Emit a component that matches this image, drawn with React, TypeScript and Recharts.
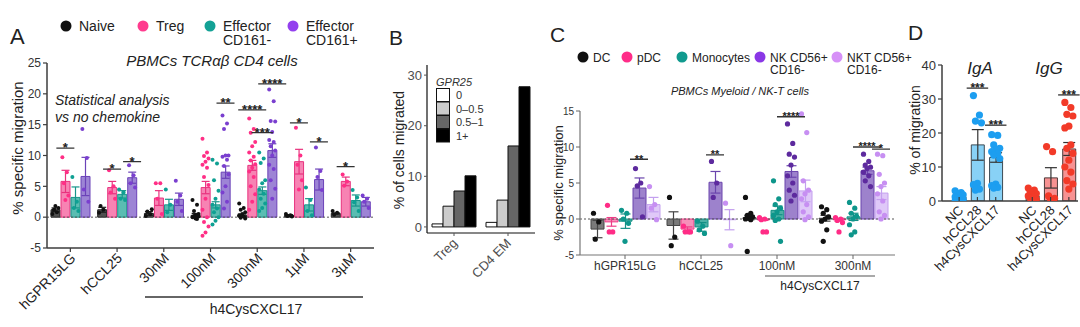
import React from 'react';
import {
  Bar,
  Cell,
  ComposedChart,
  ErrorBar,
  ReferenceLine,
  Scatter,
  XAxis,
  YAxis,
} from 'recharts';

const FONT = 'Arial, "Liberation Sans", Helvetica, sans-serif';
const AXIS = '#3c3c3c';

type Sig = { group: number; series: number; y: number; label: string };

// ---------- A: PBMCs TCRab CD4 cells ----------
const A_GROUPS = ['hGPR15LG', 'hCCL25', '30nM', '100nM', '300nM', '1µM', '3µM'];
const A_SERIES = ['Naive', 'Treg', 'Effector CD161-', 'Effector CD161+'];
const A_MEAN = [
  [1.2, 1.2, 0.6, 0.3, 0.3, 0.3, 0.6],
  [5.8, 4.8, 3.1, 4.8, 8.4, 9.0, 5.8],
  [3.2, 3.7, 2.0, 2.0, 4.3, 2.0, 2.7],
  [6.6, 6.4, 2.9, 7.3, 10.8, 6.1, 2.5],
];
const A_SEM = [
  [0.3, 0.4, 0.3, 0.3, 0.2, 0.1, 0.1],
  [1.8, 1.0, 1.2, 1.0, 0.8, 2.0, 0.7],
  [1.7, 0.6, 0.9, 0.5, 0.6, 1.0, 0.9],
  [3.1, 0.9, 1.0, 1.0, 1.1, 1.7, 0.7],
];
const A_DOTS = [
  [[0.5, 0.8, 1.2, 1.5, 1.8], [0.7, 1.2, 1.8], [0.2, 0.5, 0.9, 1.3], [2.8, 2.0, 1.0, 0.5, 0.3, 0, -0.3, 0.2, 0.1, -0.2], [2.2, 1.5, 1.2, 0.8, 0.5, 0.3, 0.1, -0.1, -0.2], [0.5, 0.3, 0.2, 0.1], [1.0, 0.7, 0.4]],
  [[9.7, 7.3, 5.5, 3.5, 2.8], [7.6, 5.0, 4.0, 3.0], [5.5, 5.5, 3.0, 0.5], [12.7, 10.5, 9.9, 9.5, 9.0, 8.5, 8.0, 6.5, 5.2, 3.0, 1.2, 0, -0.8, -1.5, -2.5, -3.0], [16.0, 14.3, 13.7, 12.2, 11.5, 10.5, 9.8, 9.2, 8.6, 8.0, 7.4, 6.5, 5.0, 3.7, 2.5, 1.2], [14.5, 10.0, 8.5, 6.0, 4.5], [6.9, 5.8, 5.1]],
  [[6.5, 2.5, 1.5, 1.0], [4.5, 4.0, 3.0, 2.8], [4.5, 2.0, 0.8], [9.3, 8.7, 6.0, 4.3, 3.0, 2.0, 1.4, 0.8, 0, -0.6, -1.2], [10.5, 9.5, 8.8, 6.0, 5.5, 4.5, 3.8, 3.0, 2.2, 1.5, 1.0], [4.8, 2.8, 1.0, 0.3], [4.4, 3.2, 2.4, 1.0]],
  [[14.3, 9.6, 4.5, 2.5], [8.4, 6.8, 5.5, 4.8], [5.9, 3.5, 2.5, 1.0], [16.5, 15.2, 14.3, 10.0, 10.0, 9.8, 9.3, 8.3, 6.9, 5.0, 4.0, 2.5, 1.4], [20.7, 18.8, 15.6, 15.5, 13.8, 12.5, 12.2, 11.5, 10.8, 10.0, 8.5, 7.8, 6.0, 4.6, 3.0], [11.3, 7.5, 6.5, 4.4], [3.5, 3.0, 2.5, 1.5]],
];
const A_SIG: Sig[] = [
  { group: 0, series: 1, y: 11.2, label: '*' },
  { group: 1, series: 1, y: 7.8, label: '*' },
  { group: 1, series: 3, y: 9.0, label: '*' },
  { group: 3, series: 3, y: 18.5, label: '**' },
  { group: 4, series: 1, y: 17.4, label: '****' },
  { group: 4, series: 2, y: 13.7, label: '***' },
  { group: 4, series: 3, y: 21.6, label: '****' },
  { group: 5, series: 1, y: 15.3, label: '*' },
  { group: 5, series: 3, y: 12.2, label: '*' },
  { group: 6, series: 1, y: 8.2, label: '*' },
];
const A_TICKS = [-5, 0, 5, 10, 15, 20, 25];

// ---------- B: GPR25 expression bins ----------
const B_GROUPS = ['Treg', 'CD4 EM'];
const B_BINS = ['0', '0–0.5', '0.5–1', '1+'];
const B_VALUES = [
  [0.6, 0.9],
  [4.1, 5.3],
  [7.1, 16.0],
  [10.1, 27.7],
];
const B_TICKS = [0, 10, 20, 30];

// ---------- C: PBMCs Myeloid / NK-T cells ----------
const C_GROUPS = ['hGPR15LG', 'hCCL25', '100nM', '300nM'];
const C_SERIES = ['DC', 'pDC', 'Monocytes', 'NK CD56+ CD16-', 'NKT CD56+ CD16-'];
const C_MEAN = [
  [-1.4, -0.9, 0.2, 0.1],
  [-0.4, -1.4, -0.1, -0.1],
  [-0.3, -1.1, 1.2, 0.3],
  [4.3, 5.1, 6.6, 6.7],
  [2.0, -0.1, 3.9, 3.6],
];
const C_SEM = [
  [1.2, 1.9, 0.3, 0.4],
  [0.6, 0.3, 0.1, 0.2],
  [1.0, 0.6, 0.6, 0.5],
  [1.4, 1.5, 0.8, 0.5],
  [1.0, 1.4, 1.5, 0.9],
];
const C_DOTS = [
  [[0.8, -0.4, -2.8], [3.0, -2.5, -3.7], [3.0, 0.8, 0.5, 0.3, 0.1, 0, -0.1, -4.5], [1.7, 1.3, 0.8, 0.3, 0, -0.3, -1.5, -3.1]],
  [[1.9, -1.8, -1.8], [-1.0, -1.8, -1.8, -1.8], [0.2, 0, -0.1, -1.8, -1.8], [0.2, 0, -0.2, -0.5, -1.8]],
  [[1.2, 0.8, 0.0, -0.6, -3.1], [-0.3, -1.0, -1.5, -2.0], [5.3, 2.8, 2.0, 1.5, 1.0, 0.5, 0, -0.2, -3.1], [2.3, 1.5, 0.8, 0.4, 0, -0.8, -1.8, -2.2]],
  [[7.0, 5.0, 4.6, 0.3], [8.0, 5.0, 3.0], [13.2, 10.5, 9.0, 8.6, 7.5, 6.0, 5.0, 4.0, 3.3, 2.5], [9.0, 8.0, 7.5, 7.2, 7.0, 6.5, 6.0, 5.3, 4.5]],
  [[4.5, 2.0, 1.5, -0.1], [2.2, -3.7], [14.6, 12.0, 5.3, 4.0, 3.5, 2.8, 2.0, 1.0, 0.3, -0.1], [9.0, 8.8, 6.2, 5.0, 4.5, 3.5, 2.5, 1.0, 0.5, 0]],
];
const C_SIG: Sig[] = [
  { group: 0, series: 3, y: 8.3, label: '**' },
  { group: 1, series: 3, y: 8.9, label: '**' },
  { group: 2, series: 3, y: 14.2, label: '****' },
  { group: 2, series: 4, y: 15.7, label: '*' },
  { group: 3, series: 3, y: 10.0, label: '****' },
  { group: 3, series: 4, y: 9.7, label: '*' },
];
const C_TICKS = [-5, 0, 5, 10, 15];

// ---------- D: IgA / IgG B cells ----------
const D_ISOTYPES = ['IgA', 'IgG'];
const D_STIMULI = ['NC', 'hCCL28', 'h4CysCXCL17'];
const D_MEAN = [
  [1.2, 16.5, 12.8],
  [1.5, 6.8, 15.3],
];
const D_SEM = [
  [0.3, 4.5, 1.4],
  [0.4, 3.0, 1.9],
];
const D_DOTS = [
  [[3.0, 2.5, 2.2, 1.8, 1.5, 1.2, 1.0, 0.8, 0.5, 0.3, 0], [31.0, 25.3, 23.5, 23.0, 5.2, 4.8, 3.5, 3.2], [19.5, 19.3, 16.5, 15.5, 15.0, 14.5, 14.0, 13.5, 12.5, 5.0, 4.5, 4.0, 3.8]],
  [[3.8, 3.2, 2.8, 2.2, 1.8, 1.5, 1.2, 0.8, 0.5, 0], [16.0, 14.5, 1.5, 0.8, 0.5], [29.0, 27.5, 25.5, 25.0, 22.0, 21.5, 16.5, 15.5, 14.0, 12.0, 10.0, 8.5, 6.0, 5.0, 3.5]],
];
const D_SIG = [
  { iso: 0, stim: 1, y: 33.2, label: '***' },
  { iso: 0, stim: 2, y: 22.3, label: '***' },
  { iso: 1, stim: 2, y: 31.2, label: '***' },
];
const D_TICKS = [0, 10, 20, 30, 40];

// ---------- styles ----------
type Style = { fill: string; stroke: string; dot: string };
const A_STYLE: Style[] = [
  { fill: '#4f4f4f', stroke: '#1e1e1e', dot: '#111' },
  { fill: '#f783b3', stroke: '#e8327e', dot: '#ff2f86' },
  { fill: '#5abdb2', stroke: '#17958a', dot: '#0fa093' },
  { fill: '#9d84d5', stroke: '#6b42b8', dot: '#7a3fcf' },
];
const A_LEGEND_DOT = ['#111', '#ff3b8e', '#13a195', '#9340ee'];
const C_STYLE: Style[] = [
  { fill: '#7a7a7a', stroke: '#444', dot: '#111' },
  { fill: '#f68fb9', stroke: '#ee3d87', dot: '#ff2c86' },
  { fill: '#4bb0a5', stroke: '#138f85', dot: '#0e968b' },
  { fill: '#9d82cc', stroke: '#6b45ad', dot: '#5d2a9e' },
  { fill: '#dfc8f8', stroke: '#c4a0ef', dot: '#c78ff2' },
];
const C_LEGEND_DOT = ['#111', '#ff2c88', '#109a8e', '#8a37e6', '#d690f7'];
const B_FILLS = ['#ffffff', '#cccccc', '#666666', '#000000'];
const D_STYLE: Record<string, Style> = {
  IgA: { fill: '#88d1f6', stroke: '#3d4b55', dot: '#1d9ef0' },
  IgG: { fill: '#f79292', stroke: '#4d3a3a', dot: '#f23a28' },
};

// ---------- rows ----------
function buildRows(groups: string[], mean: number[][], sem: number[][], dots: number[][][], sig: Sig[]) {
  return groups.map((name, g) => {
    const row: Record<string, any> = {
      name,
      dots: dots.map((d) => d[g]),
      sig: mean.map(() => undefined),
      sigT: mean.map(() => ''),
    };
    mean.forEach((m, s) => {
      row[`m${s}`] = m[g];
      row[`e${s}`] = sem[s][g];
    });
    sig.filter((x) => x.group === g).forEach((x) => {
      row.sig[x.series] = x.y;
      row.sigT[x.series] = x.label;
    });
    return row;
  });
}

const A_ROWS = buildRows(A_GROUPS, A_MEAN, A_SEM, A_DOTS, A_SIG);
const C_ROWS = buildRows(C_GROUPS, C_MEAN, C_SEM, C_DOTS, C_SIG);
const B_ROWS = B_GROUPS.map((name, g) => {
  const row: Record<string, any> = { name };
  B_VALUES.forEach((v, i) => (row[`v${i}`] = v[g]));
  return row;
});
const D_ROWS: Record<string, any>[] = [];
D_ISOTYPES.forEach((iso, i) => {
  if (i > 0) D_ROWS.push({ key: `gap${i}`, iso: '', dots: [[]], sig: [undefined], sigT: [''] });
  D_STIMULI.forEach((stim, j) => {
    const s = D_SIG.find((x) => x.iso === i && x.stim === j);
    D_ROWS.push({
      key: `${iso}|${stim}`,
      iso,
      m: D_MEAN[i][j],
      e: D_SEM[i][j],
      dots: [D_DOTS[i][j]],
      sig: [s ? s.y : undefined],
      sigT: [s ? s.label : ''],
    });
  });
});

// ---------- shapes ----------
const bad = (p: any) => p.cx == null || p.cy == null || !Number.isFinite(p.cx) || !Number.isFinite(p.cy);

function dotShape(dx: number, i: number, r: number, spread: number, color: (row: any) => string) {
  return (p: any) => {
    if (bad(p)) return <g />;
    const j = ((((i * 3) % 5) - 2) * spread) / 2;
    return <circle cx={p.cx + dx + j} cy={p.cy} r={r} fill={color(p.payload)} />;
  };
}

function sigShape(dx: number, s: number, fontSize: number) {
  return (p: any) => {
    if (bad(p)) return <g />;
    const label: string = p.payload.sigT[s];
    const w = Math.max(18, label.length * 6.5 + 2);
    const x = p.cx + dx;
    return (
      <g>
        <line x1={x - w / 2} x2={x + w / 2} y1={p.cy} y2={p.cy} stroke="#333" strokeWidth={1.3} />
        <text x={x} y={p.cy + fontSize * 0.3} textAnchor="middle" fontSize={fontSize} fontWeight="bold" fill="#222" fontFamily={FONT}>
          {label}
        </text>
      </g>
    );
  };
}

function dotLayers(rows: any[], s: number, dx: number, r: number, spread: number, color: (row: any) => string) {
  const n = Math.max(...rows.map((row) => (row.dots[s] ? row.dots[s].length : 0)));
  return Array.from({ length: n }, (_, i) => (
    <Scatter
      key={`d${s}-${i}`}
      dataKey={(row: any) => (row.dots[s] ? row.dots[s][i] : undefined)}
      shape={dotShape(dx, i, r, spread, color)}
      isAnimationActive={false}
    />
  ));
}

function sigLayer(s: number, dx: number, fontSize: number) {
  return (
    <Scatter
      key={`sig${s}`}
      dataKey={(row: any) => row.sig[s]}
      shape={sigShape(dx, s, fontSize)}
      isAnimationActive={false}
    />
  );
}

function rotTick(fontSize: number, dx: number, dy: number, color: string, fmt?: (v: string) => string, tick = 0) {
  return (p: any) => {
    const raw = String(p.payload.value);
    const label = fmt ? fmt(raw) : raw;
    return (
      <g transform={`translate(${p.x},${p.y})`}>
        {tick > 0 && label ? <line x1={0} x2={0} y1={-tick - 2} y2={-2} stroke={AXIS} strokeWidth={1.2} /> : null}
        <text transform={`translate(${dx},${dy}) rotate(-45)`} textAnchor="end" fontSize={fontSize} fill={color} fontFamily={FONT}>
          {label}
        </text>
      </g>
    );
  };
}

const yTick = (fontSize: number, color = '#333') => ({ fontSize, fill: color, fontFamily: FONT });

// ---------- panels ----------
function PanelA() {
  const pitch = 10;
  return (
    <ComposedChart width={380} height={327} data={A_ROWS} margin={{ top: 63, right: 6, left: 0, bottom: 0 }} barGap={1}>
      <XAxis dataKey="name" height={79} interval={0} tickSize={4} tick={rotTick(14, 6, 5, '#222')} tickLine={{ stroke: AXIS, strokeWidth: 1.2 }} axisLine={{ stroke: AXIS, strokeWidth: 1.5 }} />
      <YAxis width={47} domain={[-5, 25]} ticks={A_TICKS} allowDataOverflow tickSize={4} tick={yTick(12)} tickLine={{ stroke: AXIS, strokeWidth: 1.2 }} axisLine={{ stroke: AXIS, strokeWidth: 1.5 }} />
      {A_SERIES.map((name, s) => (
        <Bar key={name} dataKey={`m${s}`} barSize={9} fill={A_STYLE[s].fill} stroke={A_STYLE[s].stroke} strokeWidth={1} isAnimationActive={false}>
          <ErrorBar dataKey={`e${s}`} width={4} stroke={A_STYLE[s].stroke} strokeWidth={1.2} />
        </Bar>
      ))}
      <ReferenceLine y={0} stroke="#555" strokeDasharray="2 2" strokeWidth={1} />
      {A_SERIES.map((_, s) => dotLayers(A_ROWS, s, (s - 1.5) * pitch, 2, 3, () => A_STYLE[s].dot))}
      {A_SERIES.map((_, s) => sigLayer(s, (s - 1.5) * pitch, 13))}
    </ComposedChart>
  );
}

function PanelB() {
  return (
    <ComposedChart width={160} height={327} data={B_ROWS} margin={{ top: 65, right: 5, left: 0, bottom: 0 }} barGap={0}>
      <XAxis dataKey="name" height={94} interval={0} tickSize={3} tick={rotTick(13, 4, 6, '#4d4d4d')} tickLine={{ stroke: '#555' }} axisLine={{ stroke: '#111', strokeWidth: 1.2 }} />
      <YAxis width={47} domain={[-1.2, 32]} ticks={B_TICKS} allowDataOverflow tickSize={3} tick={yTick(13, '#4d4d4d')} tickLine={{ stroke: '#555' }} axisLine={{ stroke: '#111', strokeWidth: 1.2 }} />
      {B_BINS.map((bin, i) => (
        <Bar key={bin} dataKey={`v${i}`} barSize={11} fill={B_FILLS[i]} stroke="#111" strokeWidth={1} isAnimationActive={false} />
      ))}
    </ComposedChart>
  );
}

function PanelC() {
  const pitch = 14;
  return (
    <ComposedChart width={380} height={327} data={C_ROWS} margin={{ top: 111, right: 15, left: 0, bottom: 0 }} barGap={1}>
      <XAxis dataKey="name" height={72} interval={0} tickSize={4} padding={{ left: 7, right: 4 }} tick={{ fontSize: 12, fill: '#333', fontFamily: FONT }} tickLine={{ stroke: '#666' }} axisLine={{ stroke: '#777', strokeWidth: 1.2 }} />
      <YAxis width={50} domain={[-5, 15]} ticks={C_TICKS} allowDataOverflow tickSize={4} tick={yTick(10)} tickLine={{ stroke: '#666' }} axisLine={{ stroke: '#777', strokeWidth: 1.2 }} />
      {C_SERIES.map((name, s) => (
        <Bar key={name} dataKey={`m${s}`} barSize={13} fill={C_STYLE[s].fill} stroke={C_STYLE[s].stroke} strokeWidth={1} isAnimationActive={false}>
          <ErrorBar dataKey={`e${s}`} width={5} stroke={C_STYLE[s].stroke} strokeWidth={1.2} />
        </Bar>
      ))}
      <ReferenceLine y={0} stroke="#555" strokeDasharray="2 2" strokeWidth={1} />
      {C_SERIES.map((_, s) => dotLayers(C_ROWS, s, (s - 2) * pitch, 2.6, 3.5, () => C_STYLE[s].dot))}
      {C_SERIES.map((_, s) => sigLayer(s, (s - 2) * pitch, 11))}
    </ComposedChart>
  );
}

function PanelD() {
  const fmt = (v: string) => (v.includes('|') ? v.split('|')[1] : '');
  return (
    <ComposedChart width={170} height={327} data={D_ROWS} margin={{ top: 65, right: 2, left: 0, bottom: 0 }}>
      <XAxis dataKey="key" height={126} interval={0} tickSize={0} padding={{ left: 8, right: 0 }} tick={rotTick(13, 5, 8, '#222', fmt, 4)} tickLine={false} axisLine={{ stroke: AXIS, strokeWidth: 1.5 }} />
      <YAxis width={32} domain={[0, 40]} ticks={D_TICKS} allowDataOverflow tickSize={4} tick={yTick(13)} tickLine={{ stroke: AXIS, strokeWidth: 1.2 }} axisLine={{ stroke: AXIS, strokeWidth: 1.5 }} />
      <Bar dataKey="m" barSize={13} strokeWidth={1} isAnimationActive={false}>
        {D_ROWS.map((r) => (
          <Cell key={r.key} fill={r.iso ? D_STYLE[r.iso].fill : 'none'} stroke={r.iso ? D_STYLE[r.iso].stroke : 'none'} />
        ))}
        <ErrorBar dataKey="e" width={6} stroke="#333" strokeWidth={1.2} />
      </Bar>
      {dotLayers(D_ROWS, 0, 0, 3.6, 4, (row) => (row.iso ? D_STYLE[row.iso].dot : 'none'))}
      {sigLayer(0, 0, 12)}
    </ComposedChart>
  );
}

// ---------- labels ----------
function Overlay() {
  const t = { fontFamily: FONT, fill: '#222' } as const;
  return (
    <svg width={1080} height={327} style={{ position: 'absolute', left: 0, top: 0, pointerEvents: 'none' }}>
      {/* A */}
      <text x={10} y={44} fontSize={22} {...t}>A</text>
      {A_SERIES.map((name, s) => {
        const x = [66, 143, 210, 293][s];
        const lines = name.startsWith('Effector') ? ['Effector', name.slice(9)] : [name];
        return (
          <g key={name}>
            <circle cx={x} cy={26} r={5.5} fill={A_LEGEND_DOT[s]} />
            {lines.map((l, k) => (
              <text key={l} x={x + 13} y={31 + k * 14} fontSize={14} {...t}>{l}</text>
            ))}
          </g>
        );
      })}
      <text x={212} y={66} fontSize={15} fontStyle="italic" textAnchor="middle" {...t}>PBMCs TCRαβ CD4 cells</text>
      <text x={55} y={105} fontSize={14} fontStyle="italic" {...t}>Statistical analysis</text>
      <text x={55} y={122} fontSize={14} fontStyle="italic" {...t}>vs no chemokine</text>
      <text transform="translate(23,148) rotate(-90)" fontSize={15} textAnchor="middle" {...t}>% specific migration</text>
      <line x1={145} x2={363} y1={297} y2={297} stroke="#333" strokeWidth={1.5} />
      <text x={256} y={314} fontSize={14} textAnchor="middle" {...t}>h4CysCXCL17</text>

      {/* B */}
      <text x={389} y={45} fontSize={21} {...t}>B</text>
      <text transform="translate(404,150) rotate(-90)" fontSize={14} textAnchor="middle" {...t}>% of cells migrated</text>
      <text x={436} y={86} fontSize={11} fontStyle="italic" fill="#333" fontFamily={FONT}>GPR25</text>
      {B_BINS.map((bin, i) => (
        <g key={bin}>
          <rect x={436.5} y={88.5 + i * 13.5} width={13} height={13} fill={B_FILLS[i]} stroke="#111" strokeWidth={1} />
          <text x={456} y={99 + i * 13.5} fontSize={11} fill="#333" fontFamily={FONT}>{bin}</text>
        </g>
      ))}

      {/* C */}
      <text x={550} y={42} fontSize={21} {...t}>C</text>
      {C_SERIES.map((name, s) => {
        const x = [583, 627, 682, 760, 837][s];
        const lines = name.includes(' CD16-') ? [name.replace(' CD16-', ''), 'CD16-'] : [name];
        return (
          <g key={name}>
            <circle cx={x} cy={57} r={5.5} fill={C_LEGEND_DOT[s]} />
            {lines.map((l, k) => (
              <text key={l} x={x + 10} y={61.5 + k * 12.5} fontSize={12} {...t}>{l}</text>
            ))}
          </g>
        );
      })}
      <text x={740} y={95} fontSize={11} fontStyle="italic" textAnchor="middle" {...t}>PBMCs Myeloid / NK-T cells</text>
      <text transform="translate(563,183) rotate(-90)" fontSize={13} textAnchor="middle" {...t}>% specific migration</text>
      <line x1={765} x2={875} y1={276} y2={276} stroke="#555" strokeWidth={1.2} />
      <text x={820} y={290} fontSize={12} textAnchor="middle" {...t}>h4CysCXCL17</text>

      {/* D */}
      <text x={908} y={40} fontSize={21} {...t}>D</text>
      <text x={980} y={74} fontSize={17} fontStyle="italic" textAnchor="middle" {...t}>IgA</text>
      <text x={1049} y={74} fontSize={17} fontStyle="italic" textAnchor="middle" {...t}>IgG</text>
      <text transform="translate(920,130) rotate(-90)" fontSize={14} textAnchor="middle" {...t}>% of migration</text>
    </svg>
  );
}

export default function App() {
  const box = (left: number): React.CSSProperties => ({ position: 'absolute', left, top: 0 });
  return (
    <div style={{ position: 'absolute', left: 0, top: 0, width: 1080, height: 327, background: '#fff', overflow: 'hidden', fontFamily: FONT }}>
      <div style={box(0)}><PanelA /></div>
      <div style={box(380)}><PanelB /></div>
      <div style={box(530)}><PanelC /></div>
      <div style={box(910)}><PanelD /></div>
      <Overlay />
    </div>
  );
}
